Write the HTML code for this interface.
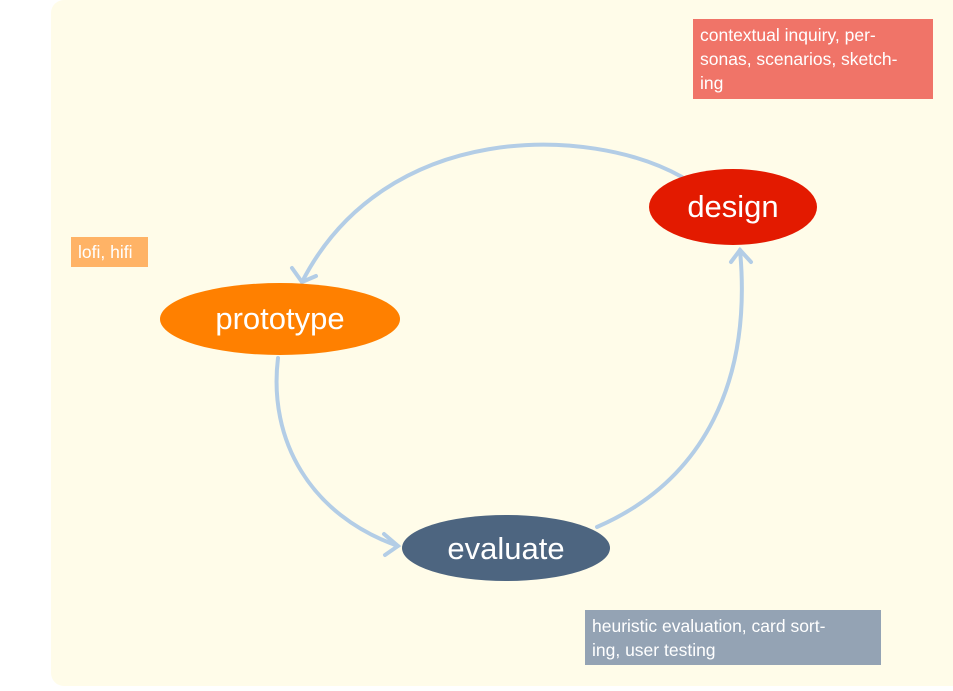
<!DOCTYPE html>
<html><head><meta charset="utf-8"><style>
body{margin:0;width:953px;height:686px;background:#fff;overflow:hidden;font-family:"Liberation Sans",sans-serif}
</style></head><body>
<svg width="953" height="686" viewBox="0 0 953 686" xmlns="http://www.w3.org/2000/svg" font-family="Liberation Sans, sans-serif">
<rect x="51" y="0" width="914" height="686" rx="13" fill="#fffce9"/>
<g fill="none" stroke="#b3cde6" stroke-width="4" stroke-linecap="round">
<path d="M682,177 C590,125 385,120 302,282"/>
<path d="M292,268 L302,282 L316,276"/>
<path d="M278,358 C268,440 310,515 398,546"/>
<path d="M384,534 L398,546 L385,555"/>
<path d="M597,527 C705,480 752,380 740,250"/>
<path d="M731,262 L740,250 L751,262"/>
</g>
<ellipse cx="733" cy="207" rx="84" ry="38" fill="#e31a00"/>
<ellipse cx="280" cy="319" rx="120" ry="36" fill="#ff8000"/>
<ellipse cx="506" cy="548" rx="104" ry="33" fill="#4d6580"/>
<g fill="#fff" text-anchor="middle" font-size="31">
<text x="733" y="217">design</text>
<text x="280" y="329">prototype</text>
<text x="506" y="559">evaluate</text>
</g>
<rect x="693" y="19" width="240" height="80" fill="#f07468"/>
<rect x="71" y="237" width="77" height="30" fill="#ffb366"/>
<rect x="585" y="610" width="296" height="55" fill="#94a3b4"/>
<g fill="#fff" font-size="17.5">
<text x="700" y="41">contextual inquiry, per-</text>
<text x="700" y="65">sonas, scenarios, sketch-</text>
<text x="700" y="89">ing</text>
<text x="78" y="258">lofi, hifi</text>
<text x="592" y="632">heuristic evaluation, card sort-</text>
<text x="592" y="656">ing, user testing</text>
</g>
</svg>
</body></html>
